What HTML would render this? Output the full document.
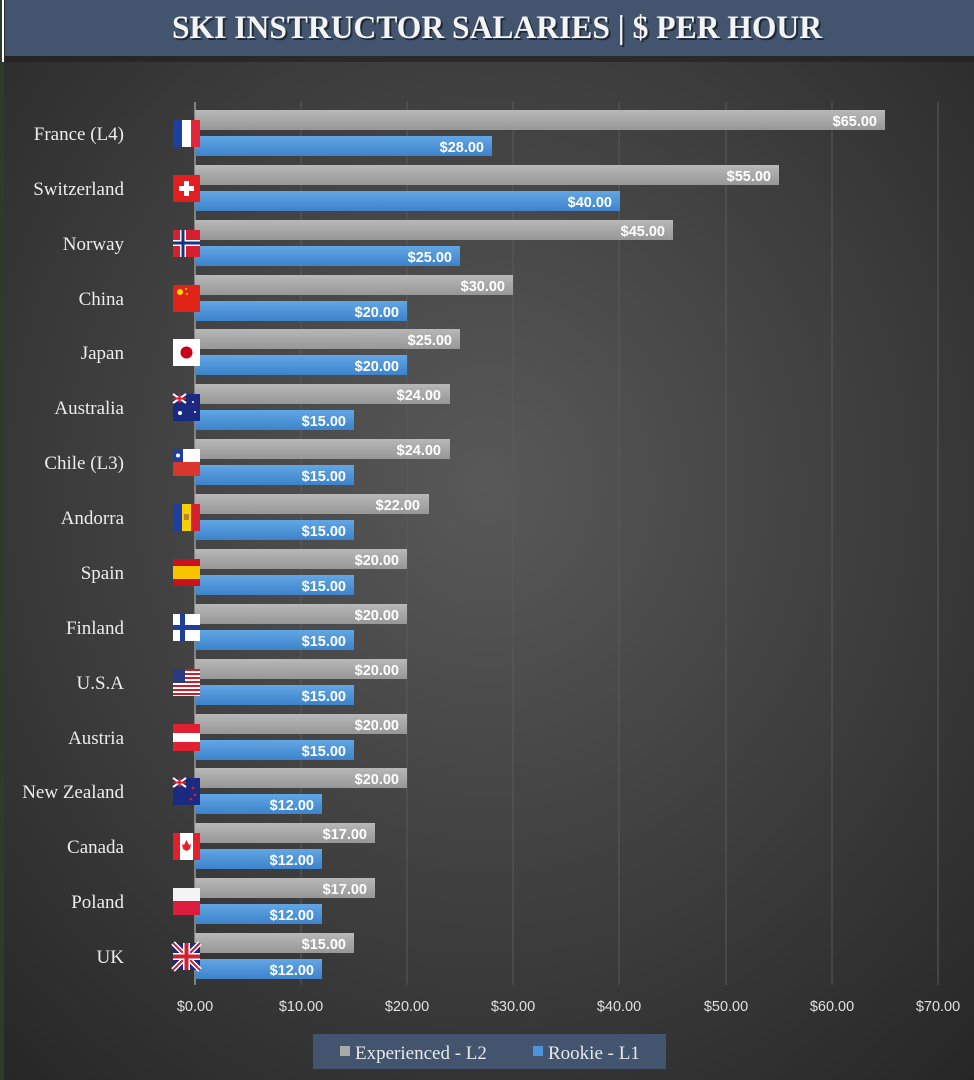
<!DOCTYPE html>
<html><head><meta charset="utf-8"><style>
html,body{margin:0;padding:0;background:#2a2a2a;}
svg{display:block}
.lb{font-family:"Liberation Serif",serif;font-size:19px;fill:#ececec;text-anchor:end}
.v{font-family:"Liberation Sans",sans-serif;font-weight:bold;font-size:14.5px;fill:#fff;text-anchor:end}
.t{font-family:"Liberation Sans",sans-serif;font-size:14.5px;fill:#e0e0e0;text-anchor:middle}
</style></head><body>
<svg width="974" height="1080" viewBox="0 0 974 1080" xmlns="http://www.w3.org/2000/svg">
<defs>
<radialGradient id="bg" cx="0.5" cy="0.45" r="0.75">
<stop offset="0" stop-color="#595959"/><stop offset="1" stop-color="#262626"/></radialGradient>
<linearGradient id="gr" x1="0" y1="0" x2="0" y2="1"><stop offset="0" stop-color="#b8b8b8"/><stop offset="1" stop-color="#979797"/></linearGradient>
<linearGradient id="bl" x1="0" y1="0" x2="0" y2="1"><stop offset="0" stop-color="#62a6e4"/><stop offset="1" stop-color="#3c83cb"/></linearGradient>
</defs>
<rect width="974" height="1080" fill="url(#bg)"/>
<rect x="0" y="0" width="4" height="1080" fill="#2f3a2a"/>
<rect x="5" y="0" width="969" height="56" fill="#42546e"/>
<rect x="5" y="56" width="969" height="6" fill="#1e1e1e" opacity="0.6"/>
<rect x="2" y="0" width="2" height="62" fill="#fff"/>
<text x="499" y="40" text-anchor="middle" font-family="Liberation Serif,serif" font-weight="bold" font-size="33" fill="#000" opacity="0.5" textLength="650" lengthAdjust="spacingAndGlyphs">SKI INSTRUCTOR SALARIES | $ PER HOUR</text>
<text x="497" y="38" text-anchor="middle" font-family="Liberation Serif,serif" font-weight="bold" font-size="33" fill="#f4f4f4" textLength="650" lengthAdjust="spacingAndGlyphs">SKI INSTRUCTOR SALARIES | $ PER HOUR</text>
<g stroke="#5a5a5a" stroke-width="1">
<line x1="301" y1="102" x2="301" y2="985"/><line x1="407" y1="102" x2="407" y2="985"/>
<line x1="513" y1="102" x2="513" y2="985"/><line x1="619" y1="102" x2="619" y2="985"/>
<line x1="726" y1="102" x2="726" y2="985"/><line x1="832" y1="102" x2="832" y2="985"/>
<line x1="938" y1="102" x2="938" y2="985"/></g>
<line x1="195" y1="102" x2="195" y2="985" stroke="#999" stroke-width="1.5"/>
<g>
<text class="t" x="195" y="1011">$0.00</text><text class="t" x="301" y="1011">$10.00</text>
<text class="t" x="407" y="1011">$20.00</text><text class="t" x="513" y="1011">$30.00</text>
<text class="t" x="619" y="1011">$40.00</text><text class="t" x="726" y="1011">$50.00</text>
<text class="t" x="832" y="1011">$60.00</text><text class="t" x="938" y="1011">$70.00</text></g>

<g>
<g transform="translate(0,110)"><rect x="195" y="0" width="690" height="20" fill="url(#gr)"/><rect x="195" y="26" width="297" height="20" fill="url(#bl)"/><text class="v" x="877" y="16">$65.00</text><text class="v" x="484" y="42">$28.00</text><text class="lb" x="124" y="30">France (L4)</text></g>
<g transform="translate(0,165)"><rect x="195" y="0" width="584" height="20" fill="url(#gr)"/><rect x="195" y="26" width="425" height="20" fill="url(#bl)"/><text class="v" x="771" y="16">$55.00</text><text class="v" x="612" y="42">$40.00</text><text class="lb" x="124" y="30">Switzerland</text></g>
<g transform="translate(0,220)"><rect x="195" y="0" width="478" height="20" fill="url(#gr)"/><rect x="195" y="26" width="265" height="20" fill="url(#bl)"/><text class="v" x="665" y="16">$45.00</text><text class="v" x="452" y="42">$25.00</text><text class="lb" x="124" y="30">Norway</text></g>
<g transform="translate(0,275)"><rect x="195" y="0" width="318" height="20" fill="url(#gr)"/><rect x="195" y="26" width="212" height="20" fill="url(#bl)"/><text class="v" x="505" y="16">$30.00</text><text class="v" x="399" y="42">$20.00</text><text class="lb" x="124" y="30">China</text></g>
<g transform="translate(0,329)"><rect x="195" y="0" width="265" height="20" fill="url(#gr)"/><rect x="195" y="26" width="212" height="20" fill="url(#bl)"/><text class="v" x="452" y="16">$25.00</text><text class="v" x="399" y="42">$20.00</text><text class="lb" x="124" y="30">Japan</text></g>
<g transform="translate(0,384)"><rect x="195" y="0" width="255" height="20" fill="url(#gr)"/><rect x="195" y="26" width="159" height="20" fill="url(#bl)"/><text class="v" x="441" y="16">$24.00</text><text class="v" x="346" y="42">$15.00</text><text class="lb" x="124" y="30">Australia</text></g>
<g transform="translate(0,439)"><rect x="195" y="0" width="255" height="20" fill="url(#gr)"/><rect x="195" y="26" width="159" height="20" fill="url(#bl)"/><text class="v" x="441" y="16">$24.00</text><text class="v" x="346" y="42">$15.00</text><text class="lb" x="124" y="30">Chile (L3)</text></g>
<g transform="translate(0,494)"><rect x="195" y="0" width="234" height="20" fill="url(#gr)"/><rect x="195" y="26" width="159" height="20" fill="url(#bl)"/><text class="v" x="420" y="16">$22.00</text><text class="v" x="346" y="42">$15.00</text><text class="lb" x="124" y="30">Andorra</text></g>
<g transform="translate(0,549)"><rect x="195" y="0" width="212" height="20" fill="url(#gr)"/><rect x="195" y="26" width="159" height="20" fill="url(#bl)"/><text class="v" x="399" y="16">$20.00</text><text class="v" x="346" y="42">$15.00</text><text class="lb" x="124" y="30">Spain</text></g>
<g transform="translate(0,604)"><rect x="195" y="0" width="212" height="20" fill="url(#gr)"/><rect x="195" y="26" width="159" height="20" fill="url(#bl)"/><text class="v" x="399" y="16">$20.00</text><text class="v" x="346" y="42">$15.00</text><text class="lb" x="124" y="30">Finland</text></g>
<g transform="translate(0,659)"><rect x="195" y="0" width="212" height="20" fill="url(#gr)"/><rect x="195" y="26" width="159" height="20" fill="url(#bl)"/><text class="v" x="399" y="16">$20.00</text><text class="v" x="346" y="42">$15.00</text><text class="lb" x="124" y="30">U.S.A</text></g>
<g transform="translate(0,714)"><rect x="195" y="0" width="212" height="20" fill="url(#gr)"/><rect x="195" y="26" width="159" height="20" fill="url(#bl)"/><text class="v" x="399" y="16">$20.00</text><text class="v" x="346" y="42">$15.00</text><text class="lb" x="124" y="30">Austria</text></g>
<g transform="translate(0,768)"><rect x="195" y="0" width="212" height="20" fill="url(#gr)"/><rect x="195" y="26" width="127" height="20" fill="url(#bl)"/><text class="v" x="399" y="16">$20.00</text><text class="v" x="314" y="42">$12.00</text><text class="lb" x="124" y="30">New Zealand</text></g>
<g transform="translate(0,823)"><rect x="195" y="0" width="180" height="20" fill="url(#gr)"/><rect x="195" y="26" width="127" height="20" fill="url(#bl)"/><text class="v" x="367" y="16">$17.00</text><text class="v" x="314" y="42">$12.00</text><text class="lb" x="124" y="30">Canada</text></g>
<g transform="translate(0,878)"><rect x="195" y="0" width="180" height="20" fill="url(#gr)"/><rect x="195" y="26" width="127" height="20" fill="url(#bl)"/><text class="v" x="367" y="16">$17.00</text><text class="v" x="314" y="42">$12.00</text><text class="lb" x="124" y="30">Poland</text></g>
<g transform="translate(0,933)"><rect x="195" y="0" width="159" height="20" fill="url(#gr)"/><rect x="195" y="26" width="127" height="20" fill="url(#bl)"/><text class="v" x="346" y="16">$15.00</text><text class="v" x="314" y="42">$12.00</text><text class="lb" x="124" y="30">UK</text></g>
</g>

<g transform="translate(173,120)"><rect width="9" height="27" fill="#1d3fa0"/><rect x="9" width="9" height="27" fill="#fff"/><rect x="18" width="9" height="27" fill="#e0263a"/></g>
<g transform="translate(173,175)"><rect width="27" height="27" fill="#e02020"/><rect x="11" y="6" width="5" height="15" fill="#fff"/><rect x="6" y="11" width="15" height="5" fill="#fff"/></g>
<g transform="translate(173,230)"><rect width="27" height="27" fill="#d42030"/><rect x="7" width="6" height="27" fill="#fff"/><rect y="10" width="27" height="6" fill="#fff"/><rect x="8.5" width="3" height="27" fill="#1d2f80"/><rect y="11.5" width="27" height="3" fill="#1d2f80"/></g>
<g transform="translate(173,285)"><rect width="27" height="27" fill="#e02418"/><circle cx="7" cy="7" r="3" fill="#ffd800"/><circle cx="13" cy="4" r="1" fill="#ffd800"/><circle cx="14" cy="9" r="1" fill="#ffd800"/></g>
<g transform="translate(173,339)"><rect width="27" height="27" fill="#fff"/><circle cx="13.5" cy="13.5" r="6" fill="#c8001a"/></g>
<g transform="translate(173,394)"><rect width="27" height="27" fill="#1a2a80"/><path d="M0 0L13 9M13 0L0 9" stroke="#fff" stroke-width="2"/><path d="M6.5 0V9M0 4.5H13" stroke="#e02020" stroke-width="2"/><circle cx="7" cy="19" r="2" fill="#fff"/><circle cx="20" cy="8" r="1" fill="#fff"/><circle cx="22" cy="18" r="1" fill="#fff"/></g>
<g transform="translate(173,449)"><rect width="27" height="13" fill="#fff"/><rect width="10" height="13" fill="#1d3fa0"/><rect y="13" width="27" height="14" fill="#d9362e"/><circle cx="5" cy="6.5" r="2" fill="#fff"/></g>
<g transform="translate(173,504)"><rect width="9" height="27" fill="#1d3fa0"/><rect x="9" width="9" height="27" fill="#f7d000"/><rect x="18" width="9" height="27" fill="#d42030"/><rect x="11" y="10" width="5" height="6" fill="#c08030"/></g>
<g transform="translate(173,559)"><rect width="27" height="27" fill="#c8101e"/><rect y="7" width="27" height="13" fill="#f8c400"/></g>
<g transform="translate(173,614)"><rect width="27" height="27" fill="#fff"/><rect x="7" width="5" height="27" fill="#1d3f9a"/><rect y="11" width="27" height="5" fill="#1d3f9a"/></g>
<g transform="translate(173,669)"><rect width="27" height="27" fill="#fff"/><g fill="#c8202a"><rect y="0" width="27" height="2"/><rect y="4" width="27" height="2"/><rect y="8" width="27" height="2"/><rect y="12" width="27" height="2"/><rect y="16" width="27" height="2"/><rect y="20" width="27" height="2"/><rect y="24" width="27" height="2"/></g><rect width="12" height="14" fill="#2a3a80"/></g>
<g transform="translate(173,724)"><rect width="27" height="27" fill="#e02030"/><rect y="9" width="27" height="9" fill="#fff"/></g>
<g transform="translate(173,778)"><rect width="27" height="27" fill="#1a2a80"/><path d="M0 0L13 9M13 0L0 9" stroke="#fff" stroke-width="2"/><path d="M6.5 0V9M0 4.5H13" stroke="#e02020" stroke-width="2"/><circle cx="20" cy="10" r="1.3" fill="#e02020"/><circle cx="22" cy="17" r="1.3" fill="#e02020"/><circle cx="18" cy="21" r="1.3" fill="#e02020"/></g>
<g transform="translate(173,833)"><rect width="27" height="27" fill="#fff"/><rect width="7" height="27" fill="#e0202a"/><rect x="20" width="7" height="27" fill="#e0202a"/><path d="M13.5 7L16 12L18 11L17 16L13.5 18L10 16L9 11L11 12Z" fill="#e0202a"/></g>
<g transform="translate(173,888)"><rect width="27" height="13" fill="#f4f4f4"/><rect y="13" width="27" height="14" fill="#dc1c3c"/></g>
<g transform="translate(173,943)"><rect width="27" height="27" fill="#1a2a80"/><path d="M0 0L27 27M27 0L0 27" stroke="#fff" stroke-width="5"/><path d="M0 0L27 27M27 0L0 27" stroke="#d02030" stroke-width="2"/><path d="M13.5 0V27M0 13.5H27" stroke="#fff" stroke-width="7"/><path d="M13.5 0V27M0 13.5H27" stroke="#d02030" stroke-width="4"/></g>

<rect x="313" y="1034" width="353" height="35" fill="#42546e"/>
<rect x="340" y="1046" width="10" height="10" fill="#aaa"/>
<text x="355" y="1059" font-family="Liberation Serif,serif" font-size="19" fill="#e8e8e8">Experienced - L2</text>
<rect x="533" y="1046" width="10" height="10" fill="#4c94dc"/>
<text x="548" y="1059" font-family="Liberation Serif,serif" font-size="19" fill="#e8e8e8">Rookie - L1</text>
</svg>
</body></html>
